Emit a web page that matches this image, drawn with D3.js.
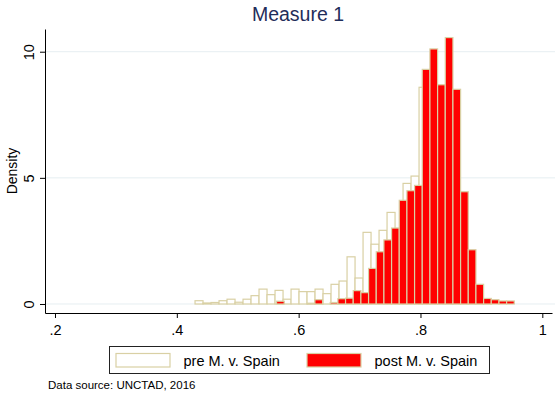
<!DOCTYPE html>
<html>
<head>
<meta charset="utf-8">
<script src="https://cdn.jsdelivr.net/npm/d3@7"></script>
<style>
  html, body { margin: 0; padding: 0; background: #fff; }
  svg { display: block; font-family: "Liberation Sans", Arial, Helvetica, sans-serif; }
</style>
</head>
<body>
<svg id="chart" width="555" height="400"></svg>
<script>
// Histogram bins (densities) for the two periods
const preBinStart = 0.4299;
const preBinWidth = 0.013134;
const preDensity = [
  0.13, 0.04, 0.06, 0.13, 0.19, 0.07, 0.19, 0.33, 0.59, 0.37,
  0.54, 0.19, 0.59, 0.49, 0.49, 0.59, 0.41, 0.78, 0.91, 1.87,
  1.03, 2.84, 2.37, 2.92, 3.63, 3.00, 4.78, 5.07, 8.59, 8.00,
  7.50, 7.00, 5.50, 3.00, 1.30, 0.50, 0.10
];

const postBinStart = 0.5637;
const postBinWidth = 0.01259;
const postDensity = [
  0.11, 0, 0, 0, 0.03, 0.17, 0, 0.06, 0.21, 0.23,
  0.53, 0.45, 1.41, 2.07, 2.54, 3.01, 4.11, 4.49, 4.70, 9.30,
  10.11, 8.69, 10.56, 8.51, 4.45, 2.15, 0.78, 0.22, 0.17, 0.12,
  0.12
];

const xTicks = [0.2, 0.4, 0.6, 0.8, 1];
const yTicks = [0, 5, 10];
const seriesNames = ["pre M. v. Spain", "post M. v. Spain"];
const titleText = "Measure 1";
const yTitle = "Density";
const noteText = "Data source: UNCTAD, 2016";

const svg = d3.select("#chart");
const edge = "#d9d0a4";

// Scales: axis extents run slightly past the tick range
const x = d3.scaleLinear().domain([0.1836, 1.0159]).range([45, 552]);
const y = d3.scaleLinear().domain([-0.357, 10.9]).range([313, 29]);

// Gridlines
svg.append("g").selectAll("line").data(yTicks).join("line")
  .attr("x1", 45).attr("x2", 555)
  .attr("y1", d => y(d)).attr("y2", d => y(d))
  .attr("stroke", "#e6eef1").attr("stroke-width", 1);

function bins(start, width, vals) {
  return vals.map((v, i) => ({ x0: start + i * width, x1: start + (i + 1) * width, v }))
             .filter(d => d.v > 0);
}

// Pre-period bars (outline only)
svg.append("g").selectAll("rect").data(bins(preBinStart, preBinWidth, preDensity)).join("rect")
  .attr("x", d => x(d.x0)).attr("width", d => x(d.x1) - x(d.x0))
  .attr("y", d => y(d.v)).attr("height", d => y(0) - y(d.v))
  .attr("fill", "#ffffff").attr("stroke", edge).attr("stroke-width", 1.2);

// Post-period bars (red)
svg.append("g").selectAll("rect").data(bins(postBinStart, postBinWidth, postDensity)).join("rect")
  .attr("x", d => x(d.x0)).attr("width", d => x(d.x1) - x(d.x0))
  .attr("y", d => y(d.v)).attr("height", d => y(0) - y(d.v))
  .attr("fill", "#ff0000").attr("stroke", edge).attr("stroke-width", 1.2);

// Y axis with rotated tick labels
const yAxis = svg.append("g").attr("transform", "translate(45,0)")
  .call(d3.axisLeft(y).tickValues(yTicks).tickSize(5).tickSizeOuter(0));
yAxis.select(".domain").attr("stroke", "#000");
yAxis.selectAll(".tick line").attr("stroke", "#000");
yAxis.selectAll(".tick text")
  .attr("font-size", 14.5).attr("fill", "#000")
  .attr("text-anchor", "middle")
  .attr("x", null).attr("dy", null)
  .attr("transform", "translate(-11,0) rotate(-90)");

// X axis
const xAxis = svg.append("g").attr("transform", "translate(0,313)")
  .call(d3.axisBottom(x).tickValues(xTicks).tickSize(5).tickSizeOuter(0).tickPadding(5)
    .tickFormat(d => d === 1 ? "1" : String(d).replace(/^0/, "")));
xAxis.select(".domain").attr("stroke", "#000");
xAxis.selectAll(".tick line").attr("stroke", "#000");
xAxis.selectAll(".tick text").attr("font-size", 14.5).attr("fill", "#000").attr("dy", "0.85em");

// Y axis title
svg.append("text")
  .attr("transform", `translate(17,${(29 + 313) / 2}) rotate(-90)`)
  .attr("text-anchor", "middle").attr("font-size", 14).attr("fill", "#000")
  .text(yTitle);

// Title
svg.append("text")
  .attr("x", 298).attr("y", 20.5).attr("text-anchor", "middle")
  .attr("font-size", 19.5).attr("fill", "#1f2d5a")
  .text(titleText);

// Legend
const legend = svg.append("g");
legend.append("rect").attr("x", 109.5).attr("y", 346.5).attr("width", 380).attr("height", 27)
  .attr("fill", "#fff").attr("stroke", "#222").attr("stroke-width", 1);
const keys = [
  { x: 116, fill: "#ffffff", tx: 183.5 },
  { x: 307, fill: "#ff0000", tx: 374.5 }
];
keys.forEach((k, i) => {
  legend.append("rect").attr("x", k.x).attr("y", 353.5).attr("width", 54).attr("height", 13.5)
    .attr("fill", k.fill).attr("stroke", edge).attr("stroke-width", 1.2);
  legend.append("text").attr("x", k.tx).attr("y", 366).attr("font-size", 14.5).attr("fill", "#000")
    .text(seriesNames[i]);
});

// Note
svg.append("text").attr("x", 48).attr("y", 389).attr("font-size", 11.5).attr("fill", "#000")
  .text(noteText);
</script>
</body>
</html>
